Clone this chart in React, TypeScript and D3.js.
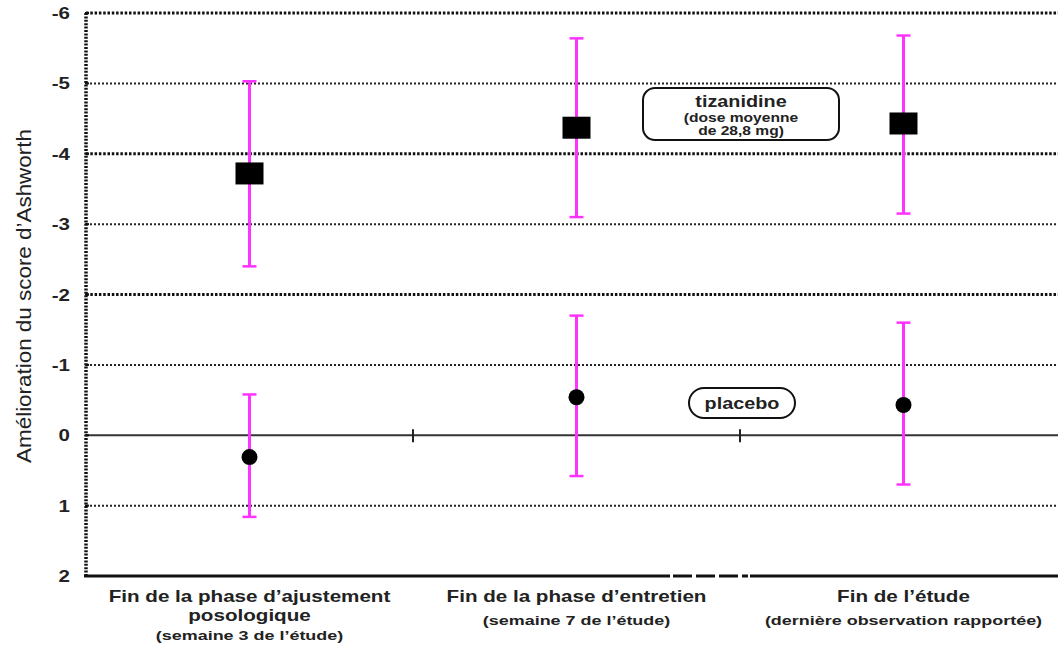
import React, { useEffect, useRef } from 'react';
import * as d3 from 'd3';

const categories = ['ajustement', 'entretien', 'fin'];
const categoryTitles = [
  ["Fin de la phase d\u2019ajustement", 'posologique'],
  ["Fin de la phase d\u2019entretien"],
  ["Fin de l\u2019\u00e9tude"],
];
const categorySubtitles = [
  "(semaine 3 de l\u2019\u00e9tude)",
  "(semaine 7 de l\u2019\u00e9tude)",
  "(derni\u00e8re observation rapport\u00e9e)",
];

const tizanidineMean = [-3.72, -4.37, -4.43];
const tizanidineLow = [-2.4, -3.1, -3.15];
const tizanidineHigh = [-5.03, -5.64, -5.68];

const placeboMean = [0.31, -0.54, -0.43];
const placeboLow = [1.16, 0.58, 0.7];
const placeboHigh = [-0.58, -1.7, -1.6];

const yTicks = [-6, -5, -4, -3, -2, -1, 0, 1, 2];
const majorGrid = [-6, -4, -2];
const minorGrid = [-5, -3, -1, 1];

const width = 1058;
const height = 650;
const font = 'Arial, "Liberation Sans", sans-serif';

type Sel = d3.Selection<SVGSVGElement, unknown, null, undefined>;

// text drawn slightly wider than normal, like the scanned original
const stretched = (
  svg: Sel | d3.Selection<SVGGElement, unknown, null, undefined>,
  x: number, y: number, txt: string, size: number, sx: number,
  bold = true, anchor = 'middle', rotate = 0
) => {
  svg.append('text')
    .attr('transform', `translate(${x},${y}) rotate(${rotate}) scale(${sx},1)`)
    .attr('text-anchor', anchor)
    .attr('font-family', font)
    .attr('font-weight', bold ? 'bold' : 'normal')
    .attr('font-size', size)
    .attr('fill', '#222')
    .text(txt);
};

const App: React.FC = () => {
  const ref = useRef<SVGSVGElement | null>(null);

  useEffect(() => {
    if (!ref.current) return;
    const svg = d3.select(ref.current) as Sel;
    svg.selectAll('*').remove();

    const left = 86, top = 13, bottom = 576;
    const y = d3.scaleLinear().domain([-6, 2]).range([top, bottom]);
    const x = d3.scaleBand<string>().domain(categories).range([left, left + 981]);
    const cx = (c: string) => (x(c) || 0) + x.bandwidth() / 2;

    svg.append('rect').attr('width', width).attr('height', height).attr('fill', '#fff');

    // grid lines
    svg.selectAll('line.major')
      .data(majorGrid)
      .join('line')
      .attr('x1', left).attr('x2', width)
      .attr('y1', d => y(d)).attr('y2', d => y(d))
      .attr('stroke', '#111').attr('stroke-width', 3)
      .attr('stroke-dasharray', '2.5,1.8');

    svg.selectAll('line.minor')
      .data(minorGrid)
      .join('line')
      .attr('x1', left).attr('x2', width)
      .attr('y1', d => y(d)).attr('y2', d => y(d))
      .attr('stroke', '#222').attr('stroke-width', 2)
      .attr('stroke-dasharray', '2,2');

    // zero line
    svg.append('line')
      .attr('x1', left).attr('x2', width)
      .attr('y1', y(0)).attr('y2', y(0))
      .attr('stroke', '#333').attr('stroke-width', 2);

    // category separators on zero line
    svg.selectAll('line.sep')
      .data(categories.slice(1))
      .join('line')
      .attr('x1', d => x(d) || 0).attr('x2', d => x(d) || 0)
      .attr('y1', y(0) - 6).attr('y2', y(0) + 7)
      .attr('stroke', '#222').attr('stroke-width', 2);

    // left axis (dotted)
    svg.append('line')
      .attr('x1', left).attr('x2', left)
      .attr('y1', top).attr('y2', bottom)
      .attr('stroke', '#111').attr('stroke-width', 3.5)
      .attr('stroke-dasharray', '2,1.4');

    svg.selectAll('line.ytick')
      .data(yTicks)
      .join('line')
      .attr('x1', left - 1).attr('x2', left + 3)
      .attr('y1', d => y(d)).attr('y2', d => y(d))
      .attr('stroke', '#111').attr('stroke-width', 2);

    // bottom axis with break
    const breakStart = 670, breakEnd = 748;
    svg.append('line')
      .attr('x1', left - 2).attr('x2', breakStart)
      .attr('y1', bottom).attr('y2', bottom)
      .attr('stroke', '#111').attr('stroke-width', 3);
    svg.append('line')
      .attr('x1', breakStart + 3).attr('x2', breakEnd)
      .attr('y1', bottom).attr('y2', bottom)
      .attr('stroke', '#111').attr('stroke-width', 3)
      .attr('stroke-dasharray', '19,4');
    svg.append('line')
      .attr('x1', breakEnd + 2).attr('x2', width)
      .attr('y1', bottom).attr('y2', bottom)
      .attr('stroke', '#111').attr('stroke-width', 3);

    // y tick labels
    yTicks.forEach(t => {
      stretched(svg, 70, y(t) + 6, String(t), 16, 1.28, true, 'end');
    });

    // y axis label
    stretched(svg, 31, 296, "Am\u00e9lioration du score d\u2019Ashworth", 19.5, 1.15, false, 'middle', -90);

    // x category labels
    categories.forEach((c, i) => {
      const lines = categoryTitles[i];
      lines.forEach((t, j) => {
        stretched(svg, cx(c), 602 + j * 18.5, t, 16.5, 1.25);
      });
      stretched(svg, cx(c), lines.length > 1 ? 640 : 625, categorySubtitles[i], 13.5, 1.33);
    });

    const errColor = '#ff33ff';
    const drawErr = (low: number[], high: number[]) => {
      categories.forEach((c, i) => {
        const g = svg.append('g');
        g.append('line')
          .attr('x1', cx(c)).attr('x2', cx(c))
          .attr('y1', y(low[i])).attr('y2', y(high[i]))
          .attr('stroke', errColor).attr('stroke-width', 3);
        [low[i], high[i]].forEach(v => {
          g.append('line')
            .attr('x1', cx(c) - 7).attr('x2', cx(c) + 7)
            .attr('y1', y(v)).attr('y2', y(v))
            .attr('stroke', errColor).attr('stroke-width', 2.5);
        });
      });
    };
    drawErr(tizanidineLow, tizanidineHigh);
    drawErr(placeboLow, placeboHigh);

    // tizanidine squares
    svg.selectAll('rect.tiz')
      .data(tizanidineMean)
      .join('rect')
      .attr('x', (_, i) => cx(categories[i]) - 14)
      .attr('y', d => y(d) - 11)
      .attr('width', 28).attr('height', 22)
      .attr('fill', '#000');

    // placebo circles
    svg.selectAll('circle.pla')
      .data(placeboMean)
      .join('circle')
      .attr('cx', (_, i) => cx(categories[i]))
      .attr('cy', d => y(d))
      .attr('r', 8)
      .attr('fill', '#000');

    // legend boxes
    const tiz = svg.append('g');
    tiz.append('rect')
      .attr('x', 643).attr('y', 88).attr('width', 196).attr('height', 52)
      .attr('rx', 12).attr('fill', '#fff')
      .attr('stroke', '#111').attr('stroke-width', 2);
    stretched(tiz, 741, 107, 'tizanidine', 16.5, 1.2);
    stretched(tiz, 741, 122, '(dose moyenne', 13, 1.2);
    stretched(tiz, 741, 135, 'de 28,8 mg)', 13, 1.2);

    const pla = svg.append('g');
    pla.append('rect')
      .attr('x', 689).attr('y', 388).attr('width', 106).attr('height', 30)
      .attr('rx', 15).attr('fill', '#fff')
      .attr('stroke', '#111').attr('stroke-width', 2);
    stretched(pla, 742, 409, 'placebo', 16.5, 1.2);
  }, []);

  return (
    <svg
      ref={ref}
      width={width}
      height={height}
      style={{ position: 'absolute', left: 0, top: 0, display: 'block' }}
    />
  );
};

export default App;
